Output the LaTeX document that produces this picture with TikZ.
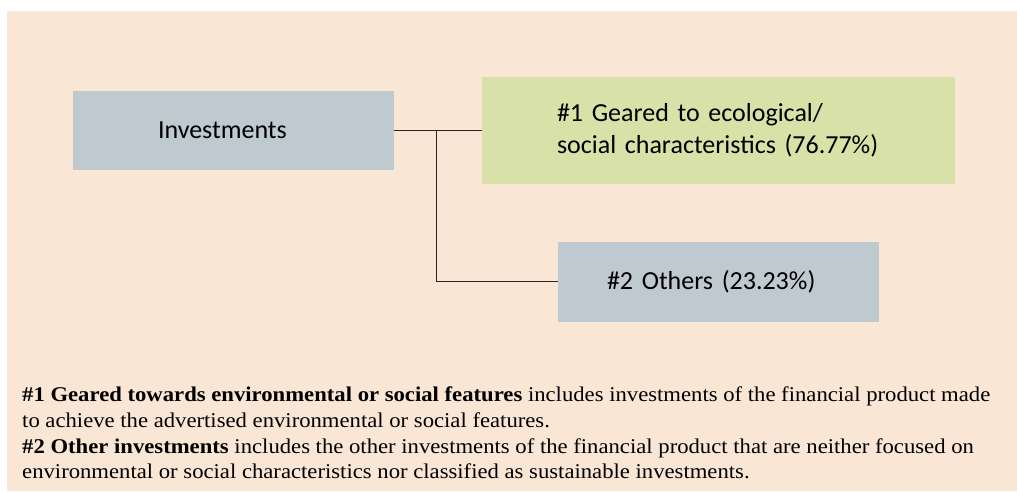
\documentclass[tikz,border=0pt]{standalone}
\usepackage{fontspec}
\setmainfont{Liberation Serif}
\newfontfamily\boxfont[WordSpace=0.8]{Carlito}
\newfontfamily\notefont[FakeStretch=1.08]{Liberation Serif}
\usetikzlibrary{calc}
\definecolor{PeachBg}{HTML}{F9E6D5}
\definecolor{SlateBox}{HTML}{BECAD0}
\definecolor{LimeBox}{HTML}{D8E2A8}
\tikzset{
    block/.style = {rectangle, inner ysep=0pt, align=left,
        font=\boxfont\fontsize{26}{31.5}\selectfont},
    link/.style = {draw, line width=1pt, black!85},
    notes/.style = {inner sep=0pt, align=left,
        font=\notefont\fontsize{21}{25.8}\selectfont}
}

\begin{document}
\begin{tikzpicture}[x=1pt,y=-1pt]
    \useasboundingbox (0,0) rectangle (1017,492);
    \fill [PeachBg] (7,11) rectangle (1017,491);
    \node[block, fill=SlateBox, minimum height=79.5pt, inner xsep=85pt, text width=151pt] (inv) at (233.5,130.5) {Investments};
    \node[block, fill=LimeBox, minimum height=106.5pt, inner xsep=75pt, text width=323pt] (eco) at (718.5,130.5) {\#1 Geared to ecological/\\\mbox{social characteristics (76.77\%)}};
    \node[block, fill=SlateBox, minimum height=79.5pt, inner xsep=49pt, text width=223pt] (oth) at (718.5,281.8) {\#2 Others (23.23\%)};
    \coordinate (split) at (436,130.5);
    \draw [link] (inv.east) -- (eco.west);
    \draw [link] (split) |- (oth.west);
    \node[notes, anchor=north west] (legend) at (22,386.5) {\textbf{\#1 Geared towards environmental or social features} includes investments of the financial product made\\
        to achieve the advertised environmental or social features.\\
        \textbf{\#2 Other investments} includes the other investments of the financial product that are neither focused on\\
        environmental or social characteristics nor classified as sustainable investments.};
\end{tikzpicture}
\end{document}
